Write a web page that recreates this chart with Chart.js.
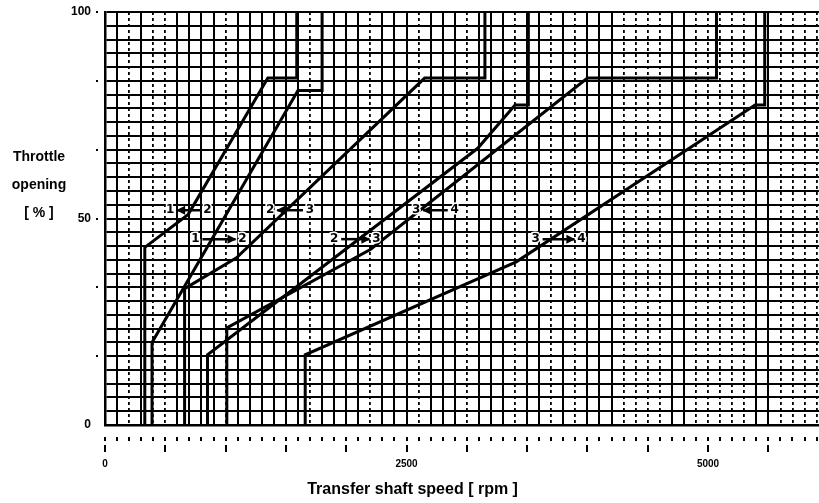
<!DOCTYPE html>
<html>
<head>
<meta charset="utf-8">
<script src="https://cdn.jsdelivr.net/npm/chart.js@4.4.0/dist/chart.umd.min.js"></script>
<style>
html, body { margin: 0; padding: 0; background: #fff; overflow: hidden; }
</style>
</head>
<body>
<canvas id="shift-chart" width="819" height="503"></canvas>
<script>
// axis ranges and labelled ticks
const SPEED_MAX = 5920;
const speedTicks = [0, 2500, 5000];
const throttleTicks = [0, 50, 100];

// grid: which 100 rpm columns are solid (the others are dotted)
const solidCols = [1, 3, 6, 7, 8, 9, 11, 12, 13, 14, 15, 16, 18, 19, 20, 21, 23, 24, 25, 27, 28, 29, 31, 32, 33, 35, 36, 38, 40, 41, 42, 47, 48, 54, 55];

// shift lines, speed [rpm] / throttle [%]
const down12Speed = [330, 330, 690, 1350, 1590, 1590];
const down12Throttle = [0, 43, 51, 84, 84, 100];
const up12Speed = [390, 390, 1600, 1800, 1800];
const up12Throttle = [0, 20, 81, 81, 100];
const down23Speed = [660, 660, 1090, 2650, 3150, 3150];
const down23Throttle = [0, 33, 40.5, 84, 84, 100];
const up23Speed = [850, 850, 3090, 3400, 3510, 3510];
const up23Throttle = [0, 17, 67, 77.5, 77.5, 100];
const down34Speed = [1010, 1010, 2200, 4000, 5070, 5070];
const down34Throttle = [0, 23.5, 42.5, 84, 84, 100];
const up34Speed = [1660, 1660, 3410, 5390, 5470, 5470];
const up34Throttle = [0, 17, 39.5, 77.5, 77.5, 100];

// "1 -> 2" style labels
const labelFrom = ['1', '1', '2', '2', '3', '3'];
const labelTo = ['2', '2', '3', '3', '4', '4'];
const labelUp = [false, true, false, true, false, true];
const labelSpeedFrom = [540, 750, 1370, 1900, 2580, 3570];
const labelSpeedTo = [850, 1140, 1700, 2250, 2900, 3950];
const labelThrottle = [52, 45, 52, 45, 52, 45];

const shiftLines = [
    [down12Speed, down12Throttle],
    [up12Speed, up12Throttle],
    [down23Speed, down23Throttle],
    [up23Speed, up23Throttle],
    [down34Speed, down34Throttle],
    [up34Speed, up34Throttle]
];

//Ticks under the axes and the axis titles
const axisMarks = {
    id: 'axisMarks',
    afterDraw(chart) {
        const { ctx, chartArea, scales } = chart;
        const xs = scales.x, ys = scales.y;
        ctx.save();
        ctx.fillStyle = '#000';
        xs.ticks.forEach(t => {
            const px = Math.round(xs.getPixelForValue(t.value));
            ctx.fillRect(px - 1, chartArea.bottom + 12, 2, 4);
            if (t.value % 500 === 0) {
                ctx.fillRect(px - 1, chartArea.bottom + 20, 2, 7);
            }
        });
        ys.ticks.forEach((t, i) => {
            if (i > 0 && i % 5 === 0) {
                const py = Math.round(ys.getPixelForValue(t.value));
                ctx.fillRect(chartArea.left - 9, py - 1, 2, 2);
            }
        });
        ctx.textAlign = 'center';
        ctx.textBaseline = 'middle';
        // x title sits a little right of the 2500 tick
        ctx.font = 'bold 16px "Liberation Sans", Arial, sans-serif';
        ctx.fillText('Transfer shaft speed [ rpm ]', xs.getPixelForValue(2550), chartArea.bottom + 65);
        // y axis title, three lines written level
        ctx.font = 'bold 14px "Liberation Sans", Arial, sans-serif';
        const mid = ys.getPixelForValue(50);
        const tx = chartArea.left - 66;
        ctx.fillText('Throttle', tx, mid - 61);
        ctx.fillText('opening', tx, mid - 33);
        ctx.fillText('[ % ]', tx, mid - 5);
        ctx.restore();
    }
};

const shiftArrows = {
    id: 'shiftArrows',
    afterDatasetsDraw(chart) {
        const { ctx, scales } = chart;
        ctx.save();
        ctx.font = 'bold 12px "DejaVu Sans", sans-serif';
        ctx.textAlign = 'center';
        ctx.textBaseline = 'middle';
        labelFrom.forEach((from, i) => {
            const x1 = scales.x.getPixelForValue(labelSpeedFrom[i]);
            const x2 = scales.x.getPixelForValue(labelSpeedTo[i]);
            const y = scales.y.getPixelForValue(labelThrottle[i]);
            ctx.lineWidth = 3;
            ctx.strokeStyle = '#fff';
            ctx.strokeText(from, x1, y);
            ctx.strokeText(labelTo[i], x2, y);
            ctx.fillStyle = '#000';
            ctx.fillText(from, x1, y);
            ctx.fillText(labelTo[i], x2, y);
            // arrow
            const a = x1 + 7, b = x2 - 7;
            ctx.strokeStyle = '#000';
            ctx.lineWidth = 2.5;
            ctx.beginPath();
            ctx.moveTo(a, y);
            ctx.lineTo(b, y);
            ctx.stroke();
            const tip = labelUp[i] ? b + 1 : a - 1;
            const dir = labelUp[i] ? -1 : 1;
            ctx.beginPath();
            ctx.moveTo(tip, y);
            ctx.lineTo(tip + dir * 9, y - 4.5);
            ctx.lineTo(tip + dir * 9, y + 4.5);
            ctx.closePath();
            ctx.fill();
        });
        ctx.restore();
    }
};

const chartCanvas = document.querySelector('#shift-chart');

new Chart(chartCanvas.getContext('2d'), {
    type: 'scatter',
    data: {
        datasets: shiftLines.map(([speed, throttle]) => ({
            data: speed.map((s, i) => ({ x: s, y: throttle[i] })),
            showLine: true,
            borderColor: '#000',
            backgroundColor: '#000',
            borderWidth: 3,
            pointRadius: 0,
            tension: 0,
            borderJoinStyle: 'miter'
        }))
    },
    options: {
        responsive: false,
        animation: false,
        devicePixelRatio: 1,
        layout: { padding: { top: 12, right: 0, bottom: 0, left: 0 }, autoPadding: false },
        plugins: { legend: { display: false }, tooltip: { enabled: false } },
        scales: {
            x: {
                type: 'linear',
                position: 'bottom',
                min: 0,
                max: SPEED_MAX,
                afterBuildTicks: s => {
                    const t = [];
                    for (let v = 0; v < SPEED_MAX; v += 100) t.push({ value: v });
                    s.ticks = t;
                },
                afterFit: s => { s.height = 78; s.paddingLeft = 0; s.paddingRight = 0; },
                grid: {
                    color: '#000',
                    lineWidth: c => solidCols.includes(c.index) ? 2 : 0,
                    drawTicks: false
                },
                border: { color: '#000', width: 2.5 },
                ticks: {
                    padding: 33,
                    autoSkip: false,
                    maxRotation: 0,
                    color: '#000',
                    font: { family: '"Liberation Sans", Arial, sans-serif', size: 10, weight: 'bold' },
                    callback: v => speedTicks.includes(v) ? String(v) : ''
                }
            },
            xDots: {
                type: 'linear',
                position: 'bottom',
                min: 0,
                max: SPEED_MAX,
                afterBuildTicks: s => {
                    const t = [];
                    for (let v = 100; v < SPEED_MAX; v += 100) t.push({ value: v });
                    s.ticks = t;
                },
                afterFit: s => { s.height = 0; s.paddingLeft = 0; s.paddingRight = 0; },
                grid: {
                    color: '#000',
                    lineWidth: c => solidCols.includes(c.index + 1) ? 0 : 1.8,
                    drawTicks: false
                },
                border: { display: false, dash: [3, 3] },
                ticks: { display: false }
            },
            y: {
                type: 'linear',
                position: 'left',
                min: 0,
                max: 100,
                afterBuildTicks: s => {
                    const t = [];
                    for (let i = 0; i <= 30; i++) t.push({ value: i * 100 / 30 });
                    s.ticks = t;
                },
                afterFit: s => { s.width = 105; s.paddingTop = 0; s.paddingBottom = 0; },
                grid: { color: '#000', lineWidth: 2, drawTicks: false },
                border: { color: '#000', width: 2.5 },
                ticks: {
                    padding: 14,
                    autoSkip: false,
                    color: '#000',
                    font: { family: '"Liberation Sans", Arial, sans-serif', size: 12, weight: 'bold' },
                    callback: v => {
                        const hit = throttleTicks.find(t => Math.abs(t - v) < 0.01);
                        return hit === undefined ? '' : String(hit);
                    }
                }
            }
        }
    },
    plugins: [axisMarks, shiftArrows]
});
</script>
</body>
</html>
